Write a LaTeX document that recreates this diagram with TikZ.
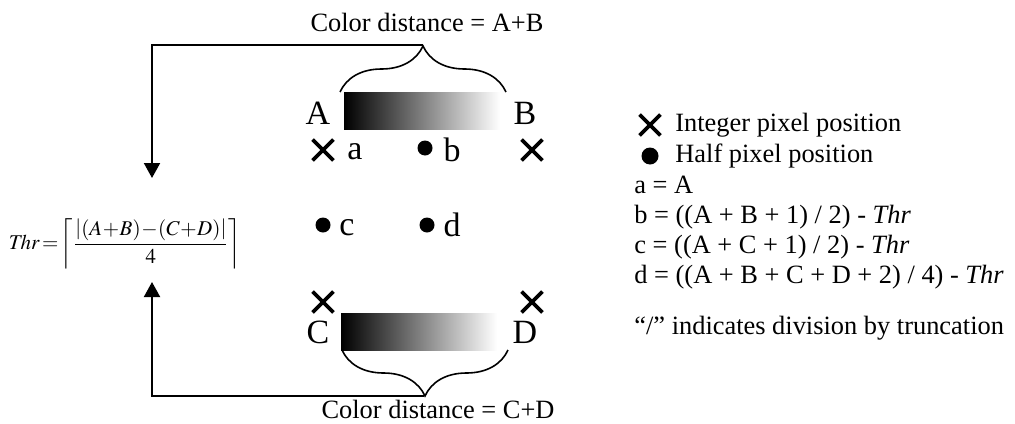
\documentclass[tikz,border=0pt]{standalone}
\usepackage{amsmath}
\usepackage{mathptmx}
\usepackage{fontspec}
\setmainfont{Liberation Serif}
\usetikzlibrary{arrows.meta,shapes.misc,decorations.pathreplacing}

\tikzset{
  xmark/.style={draw,cross out,line width=1.9pt,minimum size=8.5pt,inner sep=0pt},
  hdot/.style={circle,fill,inner sep=0pt,minimum size=7.5pt},
  lbl/.style={font=\fontsize{17}{19}\selectfont,inner sep=0pt},
  txt/.style={font=\fontsize{13.2}{15}\selectfont,inner sep=0pt,anchor=base west},
  gbar/.style={minimum width=78pt,minimum height=18.5pt,inner sep=0pt,left color=black,right color=white},
  brc/.style={decorate,decoration={brace,amplitude=23pt},line width=0.8pt},
  arr/.style={-{Triangle[width=8pt,length=7.5pt]},line width=1pt}
}

\begin{document}
\begin{tikzpicture}[x=0.5pt,y=-0.5pt]
  \useasboundingbox (0,0) rectangle (1015,423);
  % top row
  \node[gbar] (barAB) at (422,110.5){};
  \node[lbl] (A) at (318,113){A};
  \node[lbl] (B) at (525,113){B};
  \node[xmark] (xa) at (323,150){};
  \node[xmark] (xb) at (532,150){};
  \node[lbl] (la) at (355,152){a};
  \node[hdot] (db) at (425,148){};
  \node[lbl] (lb) at (452,150){b};
  % middle row
  \node[hdot] (dc) at (323,225){};
  \node[lbl] (lc) at (347,228){c};
  \node[hdot] (dd) at (427,225){};
  \node[lbl] (ld) at (452,225){d};
  % bottom row
  \node[xmark] (xc) at (323,302){};
  \node[xmark] (xd) at (532,302){};
  \node[gbar] (barCD) at (419,332){};
  \node[lbl] (C) at (318,332){C};
  \node[lbl] (D) at (525,332){D};
  % braces
  \draw[brc] (340,92)--(506,92);
  \draw[brc] (508,350)--(342,350);
  \coordinate (abtip) at (423,45);
  \coordinate (cdtip) at (424,396);
  \node[txt,anchor=center] (distAB) at (427,22){Color distance = A+B};
  \node[txt,anchor=center] (distCD) at (438,409){Color distance = C+D};
  % threshold
  \node[font=\fontsize{10.5}{12}\selectfont,inner sep=0pt] (thr) at (125,244)
    {\medmuskip=0.5mu\thickmuskip=2mu$\mathit{Thr}=\left\lceil\dfrac{\left|(A+B)-(C+D)\right|}{4}\right\rceil$};
  \coordinate (inAB) at (152,178);
  \coordinate (inCD) at (152,282);
  \draw[arr] (abtip) -| (inAB);
  \draw[arr] (cdtip) -| (inCD);
  % legend
  \node[xmark] (kx) at (650,125){};
  \node[txt] (kxt) at (675,131){Integer pixel position};
  \node[hdot,minimum size=8.5pt] (kd) at (650,156){};
  \node[txt] (kdt) at (675,162){Half pixel position};
  \node[txt] (eqa) at (634,193){a = A};
  \node[txt] (eqb) at (634,223){b = ((A + B + 1) / 2) - \textit{Thr}};
  \node[txt] (eqc) at (634,253){c = ((A + C + 1) / 2) - \textit{Thr}};
  \node[txt] (eqd) at (634,283){d = ((A + B + C + D + 2) / 4) - \textit{Thr}};
  \node[txt] (note) at (634,334){“/” indicates division by truncation};
\end{tikzpicture}
\end{document}
